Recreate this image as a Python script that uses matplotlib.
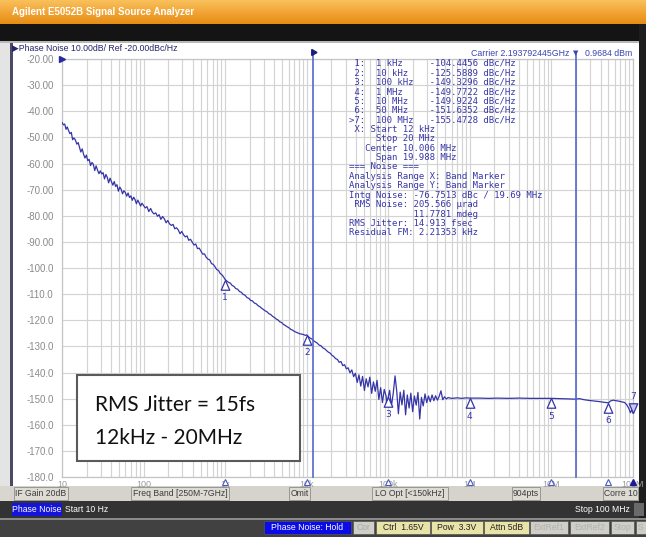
import matplotlib
matplotlib.use('Agg')
import matplotlib.pyplot as plt
from matplotlib.patches import Rectangle
from matplotlib.path import Path
from matplotlib.transforms import blended_transform_factory
from matplotlib.ticker import LogLocator, NullFormatter
from matplotlib.colors import LinearSegmentedColormap
import numpy as np

# ---------------- data ----------------
freq_hz = [
    10.0, 10.4, 10.8, 11.2, 11.6, 12.0, 12.5, 13.0, 13.5, 14.0, 14.6, 15.2, 15.8, 16.4, 17.0, 17.7,
    18.4, 19.1, 19.9, 20.7, 21.5, 22.4, 23.3, 24.2, 25.2, 26.2, 27.3, 28.4, 29.5, 30.7, 31.9, 33.2,
    34.5, 35.9, 37.3, 38.8, 40.4, 42.0, 43.7, 45.4, 47.2, 49.1, 51.1, 53.1, 55.2, 57.4, 59.7, 62.1,
    64.6, 67.2, 69.9, 72.7, 75.6, 78.6, 81.7, 85.0, 88.4, 91.9, 95.6, 100,
    105, 110, 116, 122, 128, 134, 141, 148, 155, 163, 171, 180, 189, 198, 208, 219, 230, 241, 253,
    266, 280, 294, 309, 325, 341, 358, 376, 395, 415, 436, 458, 481, 505, 531, 558, 586, 616, 647,
    680, 714, 750, 788, 828, 870, 914, 960, 1000,
    1050, 1100, 1160, 1220, 1280, 1350, 1420, 1500, 1580, 1660, 1750, 1850, 1950, 2050, 2160, 2280,
    2400, 2530, 2660, 2800, 2950, 3100, 3270, 3440, 3620, 3810, 4010, 4220, 4450, 4680, 4930, 5190,
    5470, 5760, 6060, 6380, 6720, 7080, 7450, 7850, 8260, 8700, 9160, 9640, 10000,
    10500, 11000, 11600, 12200, 12800, 13500, 14200, 15000, 15800, 16600, 17500, 18400, 19400, 20400,
    21500, 22600, 23800, 25000, 26300, 27700, 29100, 30600, 32200, 33900, 35700, 37600, 39500, 41600,
    43700, 46000, 48400, 51000, 53600, 56400, 59400, 62500, 65800, 69200, 72800, 76600, 80600, 84800,
    89200, 93900, 96000, 100000,
    104000, 109000, 115000, 121000, 127000, 133000, 140000, 147000, 155000, 163000, 171000, 180000,
    189000, 199000, 209000, 220000, 231000, 243000, 255000, 268000, 282000, 296000, 311000, 327000,
    344000, 362000, 380000, 400000, 420000, 442000, 465000, 489000, 514000, 540000, 600000, 700000,
    800000, 900000, 1.0e6, 1.3e6, 1.7e6, 2.2e6, 3.0e6, 4.0e6, 5.5e6, 7.5e6, 1.0e7, 1.3e7, 1.7e7,
    2.0e7, 2.2e7, 2.5e7, 2.9e7, 3.3e7, 3.8e7, 4.4e7, 5.0e7, 5.3e7, 5.7e7, 6.2e7, 6.8e7, 7.4e7, 7.9e7,
    8.4e7, 8.9e7, 9.3e7, 9.7e7, 1.0e8,
]
noise_dbc = [
    -44.3, -45.2, -44.9, -46.9, -46.0, -47.3, -48.6, -48.1, -50.9, -50.2, -51.0, -52.6, -52.0, -53.9, -55.6, -54.4,
    -56.5, -57.9, -56.8, -58.9, -58.4, -60.8, -59.6, -60.3, -62.7, -60.9, -62.6, -63.9, -62.8, -64.0, -63.5, -65.9,
    -64.2, -65.3, -67.4, -65.6, -67.0, -68.3, -66.9, -68.8, -68.1, -70.6, -69.0, -69.9, -71.6, -70.4, -71.1, -72.5,
    -71.3, -73.0, -72.4, -74.1, -72.9, -73.8, -75.4, -74.0, -75.1, -76.3, -75.2, -76.1,
    -77.0, -76.5, -78.4, -77.2, -78.6, -79.3, -78.9, -80.2, -79.6, -81.4, -80.3, -81.2, -82.7, -81.8, -83.1, -83.7, -83.3, -85.0, -84.6,
    -85.4, -86.9, -86.0, -87.3, -88.1, -87.7, -89.4, -89.0, -90.1, -91.2, -90.8, -92.6, -92.4, -93.5, -94.7, -94.6, -95.9, -96.6, -96.9,
    -98.3, -98.6, -99.5, -100.6, -100.9, -102.1, -102.6, -103.5, -104.4,
    -105.0, -105.5, -105.8, -106.7, -107.0, -107.9, -108.1, -109.0, -109.3, -110.1, -110.4, -111.3, -111.6, -112.4, -112.6, -113.4,
    -113.7, -114.4, -114.8, -115.4, -115.9, -116.4, -116.8, -117.5, -117.8, -118.5, -118.9, -119.5, -119.9, -120.6, -120.9, -121.6,
    -122.0, -122.5, -122.9, -123.5, -123.8, -124.3, -124.6, -124.9, -125.2, -125.3, -125.5, -125.8, -125.6,
    -126.3, -126.8, -127.2, -127.9, -128.3, -128.8, -129.5, -129.8, -130.6, -130.9, -131.6, -132.2, -132.6, -133.4,
    -133.9, -134.7, -135.0, -136.1, -135.8, -137.4, -137.0, -138.6, -138.2, -140.1, -139.0, -141.6, -140.3, -143.8,
    -140.9, -145.2, -141.5, -146.9, -142.4, -145.5, -141.8, -148.0, -143.6, -147.2, -143.0, -150.3, -145.8, -151.5,
    -146.5, -149.0, -152.2, -149.3,
    -146.8, -153.0, -148.0, -141.3, -147.2, -155.8, -147.5, -152.4, -146.8, -156.2, -148.6, -153.6,
    -147.9, -155.0, -149.0, -152.5, -147.6, -157.8, -149.5, -152.8, -148.2, -151.5, -149.0, -151.2,
    -148.6, -150.8, -148.9, -150.6, -149.2, -147.0, -150.4, -149.3, -150.1, -149.6, -149.9, -149.7,
    -149.9, -149.7, -149.8, -149.8, -149.9, -149.8, -149.9, -149.8, -149.9, -149.9, -149.9, -150.0, -150.1,
    -150.2, -150.0, -150.4, -150.7, -150.9, -151.1, -151.4, -151.6, -150.9, -150.6, -150.8, -151.0, -151.3, -151.5,
    -152.4, -153.8, -155.4, -154.2, -155.5,
]
marker_freq = [1e3, 1e4, 1e5, 1e6, 1e7, 5e7, 1e8]
marker_dbc = [-104.4456, -125.5889, -149.3296, -149.7722, -149.9224, -151.6352, -155.4728]
marker_names = ['1', '2', '3', '4', '5', '6', '7']
band_hz = [12e3, 20e6]
y_ticks = [-20, -30, -40, -50, -60, -70, -80, -90, -100, -110, -120, -130, -140, -150, -160, -170, -180]
y_labels = ['-20.00', '-30.00', '-40.00', '-50.00', '-60.00', '-70.00', '-80.00', '-90.00',
            '-100.0', '-110.0', '-120.0', '-130.0', '-140.0', '-150.0', '-160.0', '-170.0', '-180.0']
x_ticks = [10, 100, 1e3, 1e4, 1e5, 1e6, 1e7, 1e8]
x_labels = ['10', '100', '1k', '10k', '100k', '1M', '10M', '100M']
table_lines = [
    " 1:  1 kHz     -104.4456 dBc/Hz",
    " 2:  10 kHz    -125.5889 dBc/Hz",
    " 3:  100 kHz   -149.3296 dBc/Hz",
    " 4:  1 MHz     -149.7722 dBc/Hz",
    " 5:  10 MHz    -149.9224 dBc/Hz",
    " 6:  50 MHz    -151.6352 dBc/Hz",
    ">7:  100 MHz   -155.4728 dBc/Hz",
    " X: Start 12 kHz",
    "     Stop 20 MHz",
    "   Center 10.006 MHz",
    "     Span 19.988 MHz",
    "=== Noise ===",
    "Analysis Range X: Band Marker",
    "Analysis Range Y: Band Marker",
    "Intg Noise: -76.7513 dBc / 19.69 MHz",
    " RMS Noise: 205.566 \u00b5rad",
    "            11.7781 mdeg",
    "RMS Jitter: 14.913 fsec",
    "Residual FM: 2.21353 kHz",
]
status_items = [("IF Gain 20dB", 14, 68), ("Freq Band [250M-7GHz]", 131, 229), ("Omit", 289, 310),
                ("LO Opt [<150kHz]", 372, 448), ("904pts", 512, 540), ("Corre 10", 603, 638)]
bottom_items = [("Phase Noise: Hold", 264, 351, '#0b0be6', 'white'),
                ("Cor", 353, 374, '#cfcfc7', '#a9a9a9'),
                ("Ctrl  1.65V", 376, 430, '#e8e3a6', '#222222'),
                ("Pow  3.3V", 431, 483, '#e8e3a6', '#222222'),
                ("Attn 5dB", 484, 529, '#e8e3a6', '#222222'),
                ("ExtRef1", 530, 568, '#cfcfc7', '#b2b2b2'),
                ("ExtRef2", 570, 609, '#cfcfc7', '#b2b2b2'),
                ("Stop", 611, 634, '#cfcfc7', '#b2b2b2'),
                ("S", 636, 646, '#cfcfc7', '#b2b2b2')]

# ---------------- figure ----------------
W, H = 646, 537
fig = plt.figure(figsize=(W / 100, H / 100), dpi=100)
fig.patch.set_facecolor('#d9d6d0')
SANS = ['Liberation Sans', 'DejaVu Sans']


def px_rect(x0, y0, x1, y1, zorder=-5, **kw):
    fig.patches.append(Rectangle((x0 / W, 1 - y1 / H), (x1 - x0) / W, (y1 - y0) / H,
                                 transform=fig.transFigure, zorder=zorder, **kw))


def px_text(x, y, s, **kw):
    kw.setdefault('va', 'center')
    fig.text(x / W, 1 - y / H, s, **kw)


# title bar gradient
tb = fig.add_axes([0, 1 - 24 / H, 1, 24 / H])
tb.imshow(np.linspace(0, 1, 64).reshape(-1, 1), aspect='auto', extent=[0, 1, 0, 1],
          cmap=LinearSegmentedColormap.from_list('o', ['#f9c15c', '#f2a536', '#e68c14']))
tb.set_axis_off()
px_text(12, 12, "Agilent E5052B Signal Source Analyzer", color='white', fontsize=7,
        fontweight='bold', family=SANS)

px_rect(0, 24, W, 41, fc='#141414', ec='none')
px_rect(0, 41, W, 43, fc='#b8b8b8', ec='none')
px_rect(0, 43, 10, 486, fc='#e4e4e4', ec='none')
px_rect(10, 43, 13, 486, fc='#4a4a66', ec='none')
px_rect(13, 43, 639, 486, fc='white', ec='none')
px_rect(639, 24, W, 537, fc='#1e1e1e', ec='none')

# status rows
px_rect(10, 486, 639, 501, fc='#d6d3cd', ec='none')
for label, x0, x1 in status_items:
    px_rect(x0, 487, x1, 500, fc='#dedbd5', ec='#8c8c8c', lw=0.6)
    px_text((x0 + x1) / 2, 493.5, label, ha='center', color='#3a3a3a', fontsize=6.2, family=SANS)
px_rect(0, 501, 639, 518, fc='#333333', ec='none')
px_rect(12, 503, 62, 516, fc='#1414dc', ec='none')
px_text(37, 509.5, "Phase Noise", ha='center', color='white', fontsize=6.2, family=SANS)
px_text(65, 509.5, "Start 10 Hz", ha='left', color='white', fontsize=6.2, family=SANS)
px_text(630, 509.5, "Stop 100 MHz", ha='right', color='white', fontsize=6.2, family=SANS)
px_rect(634, 503, 644, 516, fc='#6a6a6a', ec='none')
px_rect(0, 518, W, 520, fc='#8a8a8a', ec='none')
px_rect(0, 520, W, H, fc='#414141', ec='none')
for label, x0, x1, fc, tc in bottom_items:
    px_rect(x0, 521, x1, 534, fc=fc, ec='#555555', lw=0.5)
    px_text((x0 + x1) / 2, 527.5, label, ha='center', color=tc, fontsize=6.2, family=SANS)

# ---------------- plot ----------------
L, R, T, B = 62, 633, 59, 477
ax = fig.add_axes([L / W, 1 - B / H, (R - L) / W, (B - T) / H])
ax.set_facecolor('white')
ax.set_xscale('log')
ax.set_xlim(x_ticks[0], x_ticks[-1])
ax.set_ylim(y_ticks[-1], y_ticks[0])
ax.set_yticks(y_ticks)
ax.set_yticklabels(y_labels)
ax.set_xticks(x_ticks)
ax.set_xticklabels(x_labels)
ax.xaxis.set_minor_locator(LogLocator(base=10, subs=[2, 3, 4, 5, 6, 7, 8, 9], numticks=20))
ax.xaxis.set_minor_formatter(NullFormatter())
ax.tick_params(axis='both', which='both', length=0)
ax.tick_params(axis='y', pad=6, labelsize=7, labelcolor='#8a8a8a')
ax.tick_params(axis='x', pad=2, labelsize=6.5, labelcolor='#9a9a9a')
for lab in ax.get_xticklabels() + ax.get_yticklabels():
    lab.set_family(SANS)
ax.grid(True, which='both', axis='x', color='#d3d3d3', lw=0.85)
ax.grid(True, which='major', axis='y', color='#d3d3d3', lw=0.85)
ax.set_axisbelow(True)
for s in ax.spines.values():
    s.set_color('#c4c4c4')
    s.set_linewidth(0.9)

TRACE = '#3535a8'
ax.plot(freq_hz, noise_dbc, color=TRACE, lw=0.9, zorder=3)

trans = blended_transform_factory(ax.transData, ax.transAxes)
# band marker lines (12 kHz / 20 MHz)
for f in band_hz:
    ax.plot([f, f], [0, 1.015], transform=trans, color='#5566cc', lw=1.2, clip_on=False, zorder=4)
ax.plot([band_hz[0]], [1.017], transform=trans, marker=(3, 0, 30), ms=5, color='#1b1b7a',
        clip_on=False, zorder=5)

# markers
tri_up = Path([(0, 0), (-0.55, -1.25), (0.55, -1.25), (0, 0)],
              [Path.MOVETO, Path.LINETO, Path.LINETO, Path.CLOSEPOLY])
tri_dn = Path([(0, 0), (-0.55, 1.25), (0.55, 1.25), (0, 0)],
              [Path.MOVETO, Path.LINETO, Path.LINETO, Path.CLOSEPOLY])
ax.plot(marker_freq[:-1], marker_dbc[:-1], ls='none', marker=tri_up, ms=14, mfc='white',
        mec=TRACE, mew=0.9, zorder=5)
ax.plot(marker_freq[-1:], marker_dbc[-1:], ls='none', marker=tri_dn, ms=14, mfc='#c8c8f0',
        mec=TRACE, mew=0.9, zorder=5, clip_on=False)
for f, d, n in zip(marker_freq[:-1], marker_dbc[:-1], marker_names[:-1]):
    ax.annotate(n, (f, d), xytext=(0, -13), textcoords='offset points', ha='center', va='center',
                fontsize=6.5, color=TRACE, zorder=6)
ax.annotate(marker_names[-1], (marker_freq[-1], marker_dbc[-1]), xytext=(0, 12),
            textcoords='offset points', ha='center', va='center', fontsize=6.5, color=TRACE,
            annotation_clip=False, zorder=6)
# marker indicators on the frequency axis
ax.plot(marker_freq[:-1], [-0.012] * 6, transform=trans, ls='none', marker='^', ms=5,
        mfc='white', mec='#4a5ac0', mew=0.8, clip_on=False, zorder=6)
ax.plot(marker_freq[-1:], [-0.012], transform=trans, ls='none', marker='^', ms=5,
        color='#1b1b9a', clip_on=False, zorder=6)
# reference level pointer
ax.plot([0], [y_ticks[0]], transform=blended_transform_factory(ax.transAxes, ax.transData),
        marker='>', ms=5, color='#2a2aa0', clip_on=False, zorder=6)

# header / carrier text
px_text(12, 48, "\u25b6Phase Noise 10.00dB/ Ref -20.00dBc/Hz", ha='left', color='#25256a',
        fontsize=6.3, family=SANS)
px_text(569, 53, "Carrier 2.193792445GHz", ha='right', color='#3a44b0', fontsize=6.3, family=SANS)
px_text(576, 53, "\u25bc", ha='center', color='#3a44b0', fontsize=5, family=['DejaVu Sans'])
px_text(585, 53, "0.9684 dBm", ha='left', color='#3a44b0', fontsize=6.3, family=SANS)

# marker / noise table
for i, line in enumerate(table_lines):
    px_text(349, 63.3 + i * 9.42, line, ha='left', color='#3838a8', fontsize=6.5,
            family=['DejaVu Sans Mono'])

# annotation box
px_rect(77, 375, 300, 461, zorder=10, fc='white', ec='#5a5a5a', lw=1.5)
px_text(95, 405, "RMS Jitter = 15fs", ha='left', color='#111111', fontsize=15,
        family=['Lato', 'DejaVu Sans'], zorder=11)
px_text(95, 438, "12kHz - 20MHz", ha='left', color='#111111', fontsize=15,
        family=['Lato', 'DejaVu Sans'], zorder=11)

fig.savefig('out.png', dpi=100)
